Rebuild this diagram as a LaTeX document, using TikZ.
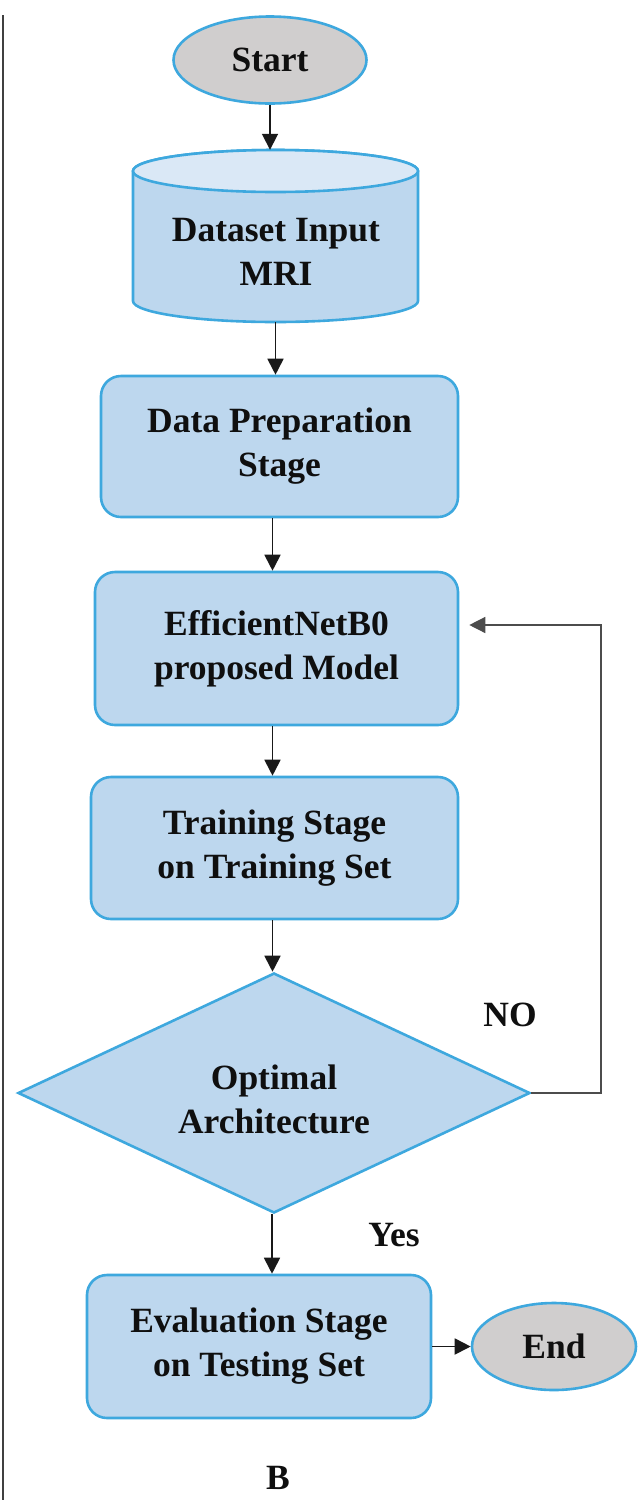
\documentclass[tikz,border=0pt]{standalone}
\usepackage{fontspec}
\setmainfont{Liberation Serif}
\usetikzlibrary{shapes.geometric,arrows.meta,calc}
\definecolor{boxfill}{RGB}{189,215,238}
\definecolor{boxline}{RGB}{62,168,222}
\definecolor{termfill}{RGB}{208,206,206}
\definecolor{cyltop}{RGB}{218,232,246}
\definecolor{txtcol}{RGB}{15,15,15}
\begin{document}
\begin{tikzpicture}[x=1pt,y=1pt,
  every node/.style={text=txtcol, font=\fontsize{35.5}{44}\selectfont\bfseries},
  stage/.style={draw=boxline, fill=boxfill, line width=2.6pt, rounded corners=20pt, align=center, inner sep=0pt},
  term/.style={ellipse, draw=boxline, fill=termfill, line width=2.6pt, inner sep=0pt},
  decide/.style={diamond, draw=boxline, fill=boxfill, line width=2.6pt, inner sep=0pt, align=center},
  flow/.style={line width=1.8pt, draw=black!90, -{Triangle[length=16pt,width=16pt]}},
  loopline/.style={line width=1.4pt, draw=black!70, -{Triangle[length=16pt,width=16pt]}},
  plain/.style={inner sep=0pt, align=center}]
\fill[white] (0,0) rectangle (638,-1500);
\useasboundingbox (0,0) rectangle (638,-1500);
% left rule
\draw[line width=1.8pt, black!75] (3,-15) -- (3,-1500);

% Start
\node[term, minimum width=193pt, minimum height=87pt] (start) at (270,-60) {Start};

% Cylinder
\fill[boxfill, draw=boxline, line width=2.6pt] (133,-171) -- (133,-301) arc[start angle=180, end angle=360, x radius=142.5, y radius=21] -- (418,-171) arc[start angle=0, end angle=180, x radius=142.5, y radius=21] -- cycle;
\fill[cyltop, draw=boxline, line width=2.6pt] (275.5,-171) ellipse[x radius=142.5, y radius=21];
\node[inner sep=0pt, minimum width=285pt, minimum height=172pt] (data) at (275.5,-236) {};
\node[plain] (datatxt) at (276,-252) {Dataset Input\\MRI};

% Stages
\node[stage, minimum width=357pt, minimum height=141pt] (prep) at (279.5,-446.5) {Data Preparation\\Stage};
\node[stage, minimum width=363pt, minimum height=153pt] (eff) at (276.5,-648.5) {EfficientNetB0\\proposed Model};
\node[stage, minimum width=367pt, minimum height=142pt] (train) at (274.5,-848) {Training Stage\\on Training Set};
\node[decide, minimum width=512pt, minimum height=240pt] (dia) at (274,-1093) {};
\node[plain] (diatxt) at (274,-1099) {Optimal\\Architecture};
\node[stage, minimum width=344pt, minimum height=143pt] (eval) at (259,-1346.5) {Evaluation Stage\\on Testing Set};
\node[term, minimum width=164pt, minimum height=87pt] (end) at (554,-1346.5) {End};

% labels
\node[plain] (no) at (510,-1015) {NO};
\node[plain] (yes) at (394,-1235) {Yes};
\node[plain] (blabel) at (278,-1478) {B};

% connectors
\draw[flow] (start.south) -- (start.south |- data.north);
\draw[flow] (data.south) -- (data.south |- prep.north);
\draw[flow] ([xshift=-7pt]prep.south) -- ([xshift=-7pt]prep.south |- eff.north);
\draw[flow] ([xshift=-4pt]eff.south) -- ([xshift=-4pt]eff.south |- train.north);
\draw[flow] ([xshift=-2pt]train.south) -- ([xshift=-2pt]train.south |- dia.north);
\draw[flow] ([xshift=-2pt]dia.south) -- ([xshift=-2pt]dia.south |- eval.north);
\draw[flow] (eval.east) -- (end.west);
\coordinate (fb1) at (601,-1093);
\coordinate (fb2) at (601,-625);
\draw[loopline, shorten >=10pt] (dia.east) -- (fb1) -- (fb2) -- (eff.east |- fb2);
\end{tikzpicture}
\end{document}
